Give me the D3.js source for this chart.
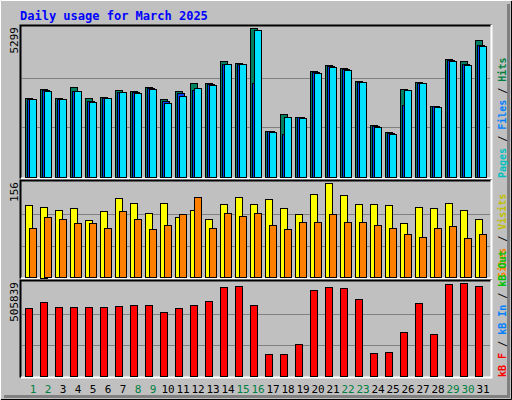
<!DOCTYPE html>
<html><head><meta charset="utf-8">
<script src="https://cdn.jsdelivr.net/npm/d3@7"></script>
<style>body{margin:0;background:#fff}</style>
</head><body><div id="chart"></div>
<script>
var days = d3.range(1, 32);
var weekend = [1, 2, 8, 9, 15, 16, 22, 23, 29, 30];
var hits = [2793,3115,2793,3186,2793,2828,3079,3043,3186,2757,3043,3330,3330,4117,4046,5299,1647,2256,2148,3759,3974,3867,3401,1862,1611,3115,3365,2542,4189,4117,4869];
var files = [2780,3090,2780,3060,2720,2810,3040,3010,3150,2700,2972,3079,3290,4030,4030,3330,1630,1540,2130,3720,3930,3830,3380,1820,1570,2578,3345,2520,4150,4030,4700];
var pages = [2757,3043,2757,3043,2685,2793,3007,2972,3115,2649,2864,3151,3258,4010,4010,5227,1611,2148,2112,3688,3902,3795,3365,1790,1539,3079,3330,2506,4117,3974,4654];
var visits = [119,117,111,114,94,109,131,122,107,122,99,112,97,121,132,121,129,114,104,138,156,136,121,121,119,89,116,114,122,112,96];
var sites = [81,99,97,89,89,82,109,97,79,86,104,132,81,107,101,107,86,79,92,92,104,91,91,87,82,72,67,81,84,65,72];
var kbytes = [367400,400600,372900,372900,372900,372900,378450,384000,384000,350760,367400,384000,406150,483680,489220,384000,118150,118150,173530,467060,483680,478140,417220,123690,129230,240000,395070,228920,500300,505839,489220];

var W = 512, H = 400, left = 20, right = 491;
var font = "'DejaVu Sans Mono', monospace";
var svg = d3.select('#chart').append('svg').attr('width', W).attr('height', H);

// outer bevel
svg.append('rect').attr('width', W).attr('height', H).attr('fill', '#c0c0c0');
svg.append('path').attr('d', 'M0.5,399.5V0.5H511.5').attr('stroke', '#fff').attr('fill', 'none');
svg.append('path').attr('d', 'M1,399.5H511.5V1').attr('stroke', '#000').attr('fill', 'none');
svg.append('path').attr('d', 'M4,396.5H508.5V4').attr('stroke', '#808080').attr('stroke-width', 3).attr('fill', 'none');

svg.append('text').attr('x', 20).attr('y', 20).attr('fill', '#0000ff')
  .style('font', "bold 12px " + font).text('Daily usage for March 2025');

var x = d3.scaleBand().domain(days).range([left + 5, left + 5 + 15 * 31]).paddingInner(0);

function panel(top, bottom, max, maxLabel, legend){
  var g = svg.append('g');
  g.append('rect').attr('x', left).attr('y', top).attr('width', right - left).attr('height', bottom - top)
    .attr('fill', '#c0c0c0');
  g.append('path').attr('d', 'M' + (left + 0.5) + ',' + (bottom + 0.5) + 'V' + (top + 0.5) + 'H' + (right + 0.5))
    .attr('stroke', '#000').attr('stroke-width', 2).attr('fill', 'none');
  g.append('path').attr('d', 'M' + (left + 1) + ',' + (bottom + 0.5) + 'H' + (right + 0.5) + 'V' + top)
    .attr('stroke', '#fff').attr('stroke-width', 2).attr('fill', 'none');
  var y = d3.scaleLinear().domain([0, max]).range([bottom - 1, top + 3]);
  [1 / 3, 2 / 3].forEach(function(f){
    var yy = Math.round(bottom - 1 - (bottom - top - 4) * f) + 0.5;
    g.append('line').attr('x1', left + 2).attr('x2', right - 1).attr('y1', yy).attr('y2', yy)
      .attr('stroke', '#808080');
  });
  g.append('text').attr('transform', 'translate(18,' + (top + 2) + ') rotate(-90)')
    .attr('text-anchor', 'end').style('font', '11px ' + font).text(maxLabel);
  var t = g.append('text').attr('transform', 'translate(506,' + bottom + ') rotate(-90)')
    .style('font', 'bold 10px ' + font);
  legend.forEach(function(l, i){
    if (i) t.append('tspan').attr('fill', '#000').text(' / ');
    t.append('tspan').attr('fill', l[1]).text(l[0]);
  });
  return y;
}

function bars(y, data, off, w, color){
  svg.append('g').selectAll('rect').data(data).join('rect')
    .attr('x', function(d, i){ return x(days[i]) + off + 0.5; })
    .attr('y', function(d){ return Math.round(y(d)) + 0.5; })
    .attr('width', w).attr('height', function(d){ return Math.round(y(0) - y(d)); })
    .attr('fill', color).attr('stroke', '#000');
}

var y1 = panel(25, 178, d3.max(hits), '5299', [['Pages', '#00c0c0'], ['Files', '#0080ff'], ['Hits', '#008040']]);
bars(y1, hits, 0, 7, '#008060');
bars(y1, files, 2, 7, '#0040ff');
bars(y1, pages, 4, 7, '#00e0ff');

var y2 = panel(180, 278, d3.max(visits), '156', [['Sites', '#ff8000'], ['Visits', '#c0c000']]);
bars(y2, visits, 0, 7, '#ffff00');
bars(y2, sites, 4, 7, '#ff8000');

var y3 = panel(280, 377, d3.max(kbytes), '505839', [['kB F', '#ff0000'], ['kB In', '#0080ff'], ['kB Out', '#00c000']]);
bars(y3, kbytes, 0, 7, '#ff0000');

svg.append('g').selectAll('text').data(days).join('text')
  .attr('x', function(d){ return x(d) + 8; }).attr('y', 393)
  .attr('text-anchor', 'middle').style('font', '11px ' + font)
  .attr('fill', function(d){ return weekend.indexOf(d) >= 0 ? '#008040' : '#000'; })
  .text(function(d){ return d; });
</script></body></html>
